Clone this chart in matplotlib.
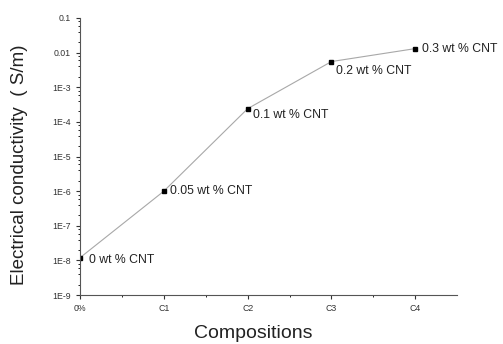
import matplotlib
matplotlib.use("Agg")
import matplotlib.pyplot as plt
import numpy as np

compositions = ["0%", "C1", "C2", "C3", "C4"]
conductivity = [1.2e-8, 1.0e-6, 2.4e-4, 5.5e-3, 1.3e-2]
point_labels = ["0 wt % CNT", "0.05 wt % CNT", "0.1 wt % CNT", "0.2 wt % CNT", "0.3 wt % CNT"]
ytick_vals = [1e-9, 1e-8, 1e-7, 1e-6, 1e-5, 1e-4, 1e-3, 1e-2, 1e-1]
ytick_labels = ["1E-9", "1E-8", "1E-7", "1E-6", "1E-5", "1E-4", "1E-3", "0.01", "0.1"]

plt.rcParams['font.family'] = ['Liberation Sans', 'DejaVu Sans']

fig = plt.figure(figsize=(5.03, 3.44), dpi=100)
ax = fig.add_axes([0.159, 0.142, 0.75, 0.806])

x = np.arange(len(compositions))
ax.plot(x, conductivity, color='#a8a8a8', linewidth=0.8, zorder=1)
ax.plot(x, conductivity, 's', color='black', markersize=3.5, zorder=2)

offsets = [(6.5, -1.5), (4.3, 0), (3.6, -4.3), (3, -6.5), (5, 0)]
for xi, yi, lab, off in zip(x, conductivity, point_labels, offsets):
    ax.annotate(lab, (xi, yi), xytext=off, textcoords='offset points',
                fontsize=8.8, va='center', ha='left', color='#222222')

ax.set_yscale('log')
ax.set_ylim(1e-9, 1e-1)
ax.set_xlim(0, 4.5)
ax.set_yticks(ytick_vals)
ax.set_yticklabels(ytick_labels)
ax.set_xticks(x)
ax.set_xticklabels(compositions)
ax.set_xticks(x[:-1] + 0.5, minor=True)
ax.set_yticks([v * m for v in ytick_vals[:-1] for m in (2, 4, 6, 8)], minor=True)
ax.yaxis.set_minor_formatter(matplotlib.ticker.NullFormatter())

ax.tick_params(axis='both', which='major', direction='out', length=3, width=0.8,
               labelsize=6.3, colors='#333333')
ax.tick_params(axis='both', which='minor', direction='out', length=1.5, width=0.6)

for s in ['top', 'right']:
    ax.spines[s].set_visible(False)
for s in ['left', 'bottom']:
    ax.spines[s].set_color('#555555')
    ax.spines[s].set_linewidth(0.8)

ax.set_xlabel("Compositions", fontsize=14, color='#222222', va='center')
ax.set_ylabel("Electrical conductivity  ( S/m)", fontsize=13.5, color='#222222', va='center')
ax.xaxis.set_label_coords(0.459, -0.137)
ax.yaxis.set_label_coords(-0.159, 0.47)

fig.savefig("out.png", dpi=100)
